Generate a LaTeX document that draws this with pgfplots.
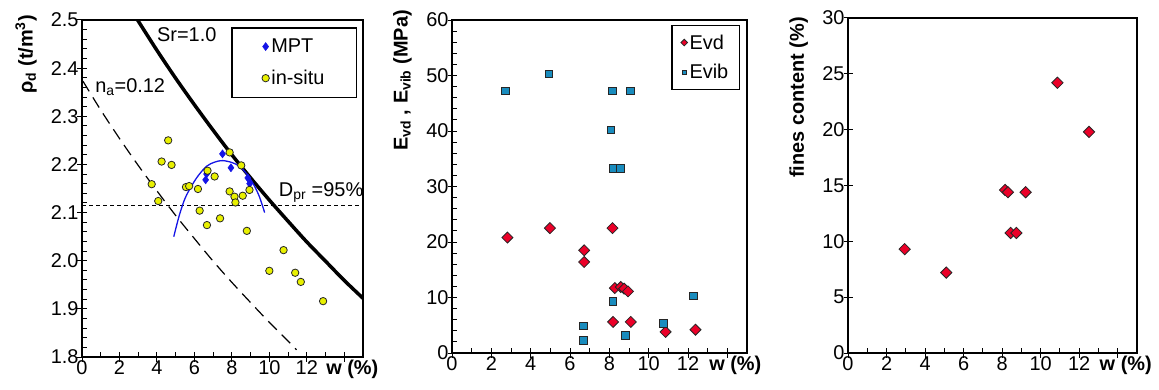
\documentclass[border=0pt]{standalone}
\usepackage{fontspec}
\setmainfont{Liberation Sans}
\usepackage{pgfplots}
\pgfplotsset{compat=1.18}
\definecolor{evd}{RGB}{235,0,40}
\definecolor{evib}{RGB}{25,140,190}
\definecolor{insitu}{RGB}{232,240,0}
\definecolor{mpt}{RGB}{20,20,230}
\newcommand{\fs}{\fontsize{20}{22}\selectfont}
\pgfplotsset{
  myaxis/.style={
    scale only axis,
    axis line style={line width=1.2bp},
    xmin=0, xmax=15,
    xtick={0,2,4,6,8,10,12,14},
    xticklabels={0,2,4,6,8,10,12,\hspace{16bp}\textbf{w (\%)}},
    minor x tick num=1,
    xtick pos=bottom, ytick pos=left,
    tick align=inside,
    major tick length=9bp, minor tick length=5bp,
    tick style={line width=1bp, black},
    every major x tick/.append style={yshift=-4.5bp},
    every major y tick/.append style={xshift=-4.5bp},
    ticklabel style={font=\fs},
    /pgf/number format/assume math mode=true,
    ylabel style={anchor=south east, font=\fs\bfseries, inner sep=0bp},
    legend cell align=left,
  }
}
\begin{document}
\begin{tikzpicture}
\useasboundingbox (0,0) rectangle (1159bp,390bp);
% ---------- Panel 1 ----------
\begin{axis}[myaxis, at={(82bp,33bp)}, width=281bp, height=337bp,
  ymin=1.8, ymax=2.5, ytick={1.8,1.9,2.0,2.1,2.2,2.3,2.4,2.5}, minor y tick num=4,
  yticklabel style={/pgf/number format/.cd, fixed, fixed zerofill, precision=1},
  ylabel={ρ\textsubscript{d} (t/m\textsuperscript{3})},
  ylabel style={at={(axis description cs:-0.160,1.015)}},
  legend style={at={(0.979,0.978)}, anchor=north east, draw=black, line width=1.2bp,
    font=\fs, inner xsep=30bp, inner ysep=9bp, row sep=12bp}]
\addplot[black, line width=3.5bp, smooth, forget plot] coordinates {
(2.8,2.510) (3,2.498) (4,2.437) (5,2.379) (6,2.324) (7,2.271) (8,2.220)
(9,2.172) (10,2.126) (11,2.082) (12,2.039) (13,1.999) (14,1.959) (15,1.922)};
\addplot[black, line width=1.2bp, dash pattern=on 12bp off 7bp, smooth, forget plot] coordinates {
(0.05,2.373) (1,2.313) (2,2.254) (3,2.198) (4,2.145) (5,2.094) (6,2.046)
(7,1.999) (8,1.955) (9,1.913) (10,1.872) (11,1.833) (11.45,1.815)};
\addplot[black, line width=1bp, dash pattern=on 4bp off 3bp, forget plot] coordinates {(0,2.115) (15,2.115)};
\addplot[mpt, line width=1.3bp, smooth, forget plot] coordinates {
(4.9,2.050) (5.2,2.095) (5.54,2.133) (6.1,2.171) (6.64,2.196) (7.1,2.205) (7.5,2.208)
(8.0,2.204) (8.41,2.196) (8.8,2.180) (9.12,2.161) (9.45,2.135) (9.75,2.100)};
\addplot[only marks, mark=diamond*, mark size=4bp, mark options={fill=mpt, draw=mpt, line width=0.5bp}] coordinates {
(6.6,2.168) (6.65,2.180) (7.5,2.222) (7.95,2.193) (8.85,2.172) (8.95,2.160)};
\addlegendentry{MPT}
\addplot[only marks, mark=*, mark size=3.7bp, mark options={fill=insitu, draw=black!85, line width=0.8bp}] coordinates {
(3.72,2.159) (4.07,2.124) (4.25,2.206) (4.60,2.250) (4.78,2.199) (5.55,2.153)
(5.72,2.155) (6.19,2.149) (6.28,2.104) (6.67,2.074) (6.70,2.187) (7.08,2.175)
(7.37,2.088) (7.88,2.225) (7.88,2.144) (8.14,2.133) (8.19,2.121) (8.50,2.198)
(8.58,2.135) (8.80,2.062) (8.94,2.147) (10.0,1.979) (10.76,2.022) (11.38,1.975)
(11.68,1.956) (12.87,1.916)};
\addlegendentry{in-situ}
\node[anchor=base west, font=\fs, inner sep=0] at (axis cs:4.0,2.456) {Sr=1.0};
\node[anchor=base west, font=\fs, inner sep=0] at (axis cs:0.7,2.35) {n\textsubscript{a}=0.12};
\node[anchor=base west, font=\fs, inner sep=0] at (axis cs:10.5,2.133) {D\textsubscript{pr} =95\%};
\end{axis}
% ---------- Panel 2 ----------
\begin{axis}[myaxis, at={(452bp,37bp)}, width=295bp, height=333bp,
  ymin=0, ymax=60, ytick={0,10,20,30,40,50,60}, minor y tick num=4,
  ylabel={E\textsubscript{vd} , E\textsubscript{vib} (MPa)},
  ylabel style={at={(axis description cs:-0.136,1.03)}},
  legend style={at={(0.976,0.985)}, anchor=north east, draw=black, line width=1.2bp,
    font=\fs, inner xsep=9bp, inner ysep=7bp, row sep=10bp},
  legend image post style={scale=0.6}]
\addplot[only marks, mark=square*, mark size=3.9bp, mark options={rotate=45, fill=evd, draw=black!85, line width=0.8bp}] coordinates {
(2.82,20.8) (4.98,22.5) (6.72,18.5) (6.72,16.4) (8.16,22.5) (8.28,11.7) (8.58,11.9)
(8.75,11.6) (8.95,11.1) (8.19,5.6) (9.09,5.6) (10.86,3.8) (12.38,4.2)};
\addlegendentry{Evd}
\addplot[only marks, mark=square*, mark size=3.8bp, mark options={fill=evib, draw=black!85, line width=0.8bp}] coordinates {
(2.70,47.2) (4.93,50.3) (6.67,4.9) (6.67,2.3) (8.07,40.2) (8.16,47.2) (9.07,47.2)
(8.19,33.3) (8.56,33.3) (8.19,9.3) (8.83,3.2) (10.76,5.3) (12.26,10.3)};
\addlegendentry{Evib}
\end{axis}
% ---------- Panel 3 ----------
\begin{axis}[myaxis, at={(848bp,37bp)}, width=289bp, height=335bp,
  ymin=0, ymax=30, ytick={0,5,10,15,20,25,30},
  ylabel={fines content (\%)},
  ylabel style={at={(axis description cs:-0.138,1.003)}}]
\addplot[only marks, mark=square*, mark size=4bp, mark options={rotate=45, fill=evd, draw=black!85, line width=0.8bp}] coordinates {
(2.94,9.3) (5.10,7.2) (8.15,14.6) (8.30,14.4) (9.22,14.4) (8.44,10.75) (8.74,10.75)
(10.87,24.2) (12.51,19.8)};
\end{axis}
\end{tikzpicture}
\end{document}
